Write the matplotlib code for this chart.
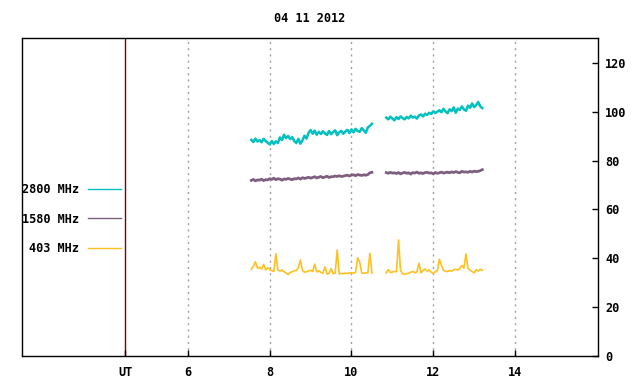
import numpy as np
import matplotlib
matplotlib.use('Agg')
import matplotlib.pyplot as plt
from matplotlib.lines import Line2D

# Times (UT hours) of the two recording blocks
t1 = np.round(np.arange(7.55, 10.501, 0.05), 2)
t2 = np.round(np.arange(10.85, 13.201, 0.05), 2)

# 2800 MHz
f2800_a = [88.5, 87.6, 89.0, 87.8, 88.4, 87.5, 88.9, 88.0, 87.3, 86.6,
           88.0, 86.8, 87.9, 87.2,
           89.5, 88.4, 90.6, 89.2, 90.1, 88.8,
           89.6, 88.0, 87.2, 88.9, 86.9, 88.3,
           90.2, 89.0, 91.4, 92.5,
           91.0, 92.3, 90.6, 91.8, 90.9, 92.0, 91.2, 90.5,
           92.1, 90.8, 91.7, 92.4, 90.4, 91.6, 92.2, 91.0, 91.9, 92.6, 91.3,
           92.8, 91.6, 93.0, 92.1, 91.8, 93.3, 92.4,
           91.4, 93.6, 94.2, 95.1]
f2800_b = [97.6, 96.9, 98.0, 97.2, 96.5, 97.8, 97.0, 98.1, 97.4, 96.9,
           97.9, 97.3, 98.4, 97.6, 98.0, 97.2, 98.5, 98.9, 98.1, 99.2,
           98.7, 99.6, 99.1, 100.2, 99.5, 100.0, 100.6, 99.8, 101.2, 100.1,
           99.4, 101.0, 100.3, 101.8, 99.6, 101.3, 100.7, 102.2, 101.0, 100.4,
           102.5, 101.6, 103.4, 101.9, 102.8, 104.0, 102.2, 101.5]

# 1580 MHz
f1580_a = [71.9, 72.3, 71.7, 72.1, 72.0, 72.4, 71.8, 72.2, 72.1, 72.6,
           72.3, 72.8, 72.2, 72.6, 72.4, 72.0, 72.5, 72.3, 72.7, 72.4,
           72.2, 72.6, 72.5, 72.9, 72.4, 73.0, 72.7, 72.9, 73.2, 72.8,
           73.1, 73.4, 72.9, 73.2, 73.5, 73.0, 73.3, 73.6, 73.1, 73.4,
           73.4, 73.7, 73.5, 73.8, 73.5, 73.6, 73.9, 74.0, 73.7, 74.1,
           74.2, 73.8, 74.3, 74.1, 73.9, 74.2, 74.0, 74.3, 75.0, 75.2]
f1580_b = [75.1, 74.8, 75.2, 74.9, 75.0, 74.7, 75.1, 74.6, 74.9, 75.2,
           74.8, 75.0, 74.5, 75.1, 74.9, 75.3, 74.8, 75.0, 74.7, 75.1,
           75.2, 74.9, 75.0, 74.6, 75.1, 74.8, 75.0, 75.3, 74.9, 75.1,
           75.3, 75.0, 75.4, 75.1, 75.5, 75.2, 75.0, 75.6, 75.3, 75.4,
           75.2, 75.6, 75.3, 75.7, 75.5, 75.6, 75.9, 76.3]

# 403 MHz
f403_a = [35.5, 36.8, 38.6, 35.9, 36.4, 35.6, 37.5, 35.2, 36.1, 35.4,
          35.0, 34.6, 41.8, 35.1, 34.8, 35.2, 34.5, 34.0, 33.3, 34.2,
          34.5, 34.9, 35.0, 36.2, 39.3, 35.0, 34.3, 34.5, 34.8, 35.1,
          34.6, 37.6, 34.4, 34.9, 34.2, 33.9, 36.5, 33.6, 33.8, 35.7,
          33.7, 33.9, 43.4, 33.6, 33.8, 33.7, 33.9, 33.8, 34.0, 34.1,
          33.9, 34.2, 40.2, 38.5, 34.0, 33.9, 34.1, 34.0, 42.0, 33.9]
f403_b = [34.0, 35.4, 34.2, 34.4, 34.6, 34.5, 47.5, 35.0, 33.6, 33.5,
          33.7, 33.9, 34.3, 34.6, 34.1, 34.4, 38.0, 34.0, 35.0, 35.6,
          34.8, 35.2, 34.3, 33.8, 34.5, 35.0, 39.6, 37.2, 35.1, 34.7,
          34.6, 35.0, 34.7, 35.3, 35.5, 35.2, 35.8, 37.1, 36.0, 41.8,
          35.9, 35.2, 34.6, 34.0, 35.3, 34.8, 35.5, 35.1]

labels = ['2800 MHz', '1580 MHz', '403 MHz']
colors = ['#00c0c0', '#7f5f80', '#ffc020']
widths = [1.8, 2.0, 1.2]
ut_pos = 4.46
x_ticks = [6, 8, 10, 12, 14]
y_ticks = [0, 20, 40, 60, 80, 100, 120]

mono = {'family': 'DejaVu Sans Mono', 'weight': 'bold', 'size': 8.6}

fig = plt.figure(figsize=(6.4, 3.84), dpi=100)
ax = fig.add_axes([22 / 640, 28 / 384, 576 / 640, 318 / 384])

series = [(f2800_a, f2800_b), (f1580_a, f1580_b), (f403_a, f403_b)]
for (a, b), c, w in zip(series, colors, widths):
    ax.plot(t1, a, color=c, lw=w)
    ax.plot(t2, b, color=c, lw=w)

ax.set_xlim(1.94, 16.03)
ax.set_ylim(0, 130.2)

for x in x_ticks:
    ax.axvline(x, color='#a0a0a0', lw=1, ls=(0, (1.5, 3)), zorder=0)
ax.axvline(ut_pos, color='#800000', lw=1, zorder=0)

ax.set_xticks([ut_pos] + x_ticks)
ax.set_xticklabels(['UT'] + [str(x) for x in x_ticks])
ax.set_yticks(y_ticks)
ax.yaxis.tick_right()
ax.tick_params(axis='both', direction='in', length=4, width=1, color='black')
ax.tick_params(axis='x', pad=7)
ax.tick_params(axis='y', pad=5)
for lab in ax.get_xticklabels() + ax.get_yticklabels():
    lab.set_fontproperties(matplotlib.font_manager.FontProperties(**mono))
for s in ax.spines.values():
    s.set_linewidth(1)

handles = [Line2D([], [], color=c, lw=1) for c in colors]
leg = fig.legend(handles, labels, loc='center right',
                 bbox_to_anchor=(121 / 640, 1 - 219 / 384),
                 frameon=False, markerfirst=False, prop=mono,
                 handlelength=2.8, handletextpad=0.75, labelspacing=1.4,
                 borderpad=0, borderaxespad=0)

fig.text(310 / 640, 1 - 19 / 384, '04 11 2012', ha='center', va='center', **mono)

fig.savefig('out.png', dpi=100)
